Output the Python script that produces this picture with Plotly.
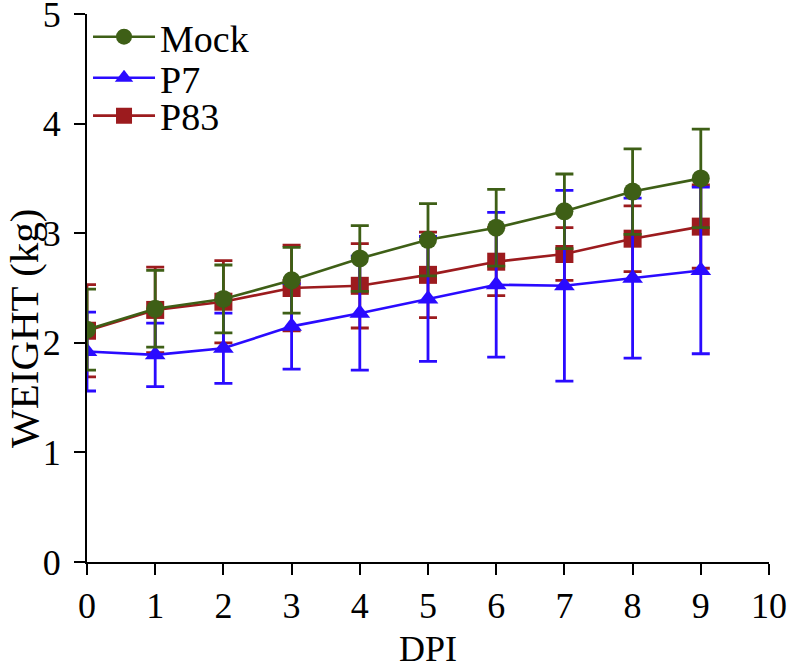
import plotly.graph_objects as go

dpi = [0, 1, 2, 3, 4, 5, 6, 7, 8, 9]
mock = [2.12, 2.31, 2.40, 2.57, 2.77, 2.94, 3.05, 3.20, 3.38, 3.50]
mock_err = [0.37, 0.35, 0.31, 0.30, 0.30, 0.33, 0.35, 0.34, 0.39, 0.45]
p7 = [1.92, 1.89, 1.95, 2.15, 2.27, 2.40, 2.53, 2.52, 2.59, 2.66]
p7_err = [0.36, 0.29, 0.32, 0.39, 0.52, 0.57, 0.66, 0.87, 0.73, 0.76]
p83 = [2.11, 2.30, 2.375, 2.50, 2.52, 2.62, 2.74, 2.81, 2.95, 3.06]
p83_err = [0.42, 0.39, 0.375, 0.39, 0.385, 0.39, 0.31, 0.24, 0.30, 0.38]

GREEN = "#3e5f16"
BLUE = "#2a0bff"
RED = "#9c1b1e"
FONT = "Liberation Serif"

fig = go.Figure()

def add(name, y, err, color, symbol, legend):
    fig.add_trace(go.Scatter(
        x=dpi, y=y, name=name, mode="lines+markers",
        line=dict(color=color, width=2.6),
        marker=dict(color=color, symbol=symbol, size=18),
        error_y=dict(type="data", array=err, visible=True, color=color,
                     thickness=2.8, width=9),
        legend=legend,
    ))

add("P83", p83, p83_err, RED, "square", "legend3")
add("P7", p7, p7_err, BLUE, "triangle-up", "legend2")
add("Mock", mock, mock_err, GREEN, "circle", "legend")

axis_common = dict(
    showline=True, linecolor="black", linewidth=2.2,
    ticks="outside", ticklen=11, tickwidth=2.2, tickcolor="black",
    showgrid=False, zeroline=False, automargin=False,
    ticklabeloverflow="allow",
    tickfont=dict(family=FONT, size=36, color="black"),
)

def leg(y):
    return dict(x=0.0015, y=y, xanchor="left", yanchor="middle",
                font=dict(family=FONT, size=38, color="black"),
                bgcolor="rgba(0,0,0,0)", itemwidth=62)

fig.update_layout(
    width=791, height=671,
    margin=dict(l=87, r=22, t=14, b=109, autoexpand=False),
    plot_bgcolor="white", paper_bgcolor="white",
    font=dict(family=FONT, color="black"),
    xaxis=dict(range=[0, 10], dtick=1, tickmode="linear", tick0=0,
               ticklabelstandoff=0, **axis_common),
    yaxis=dict(range=[0, 5], dtick=1, tickmode="linear", tick0=0,
               ticklabelstandoff=6, **axis_common),
    legend=leg(0.958),
    legend2=leg(0.883),
    legend3=leg(0.814),
    showlegend=True,
    annotations=[
        dict(text="WEIGHT (kg)", textangle=-90, showarrow=False,
             xref="paper", yref="paper", x=(24 - 87) / 682, y=(562 - 329) / 548,
             xanchor="center", yanchor="middle",
             font=dict(family=FONT, size=41, color="black")),
        dict(text="DPI", showarrow=False,
             xref="paper", yref="paper", x=0.5, y=(562 - 671) / 548,
             xanchor="center", yanchor="bottom",
             font=dict(family=FONT, size=36, color="black")),
    ],
)

fig.write_html("out.html", config={"displayModeBar": False},
               post_script="document.body.style.margin='0';")
